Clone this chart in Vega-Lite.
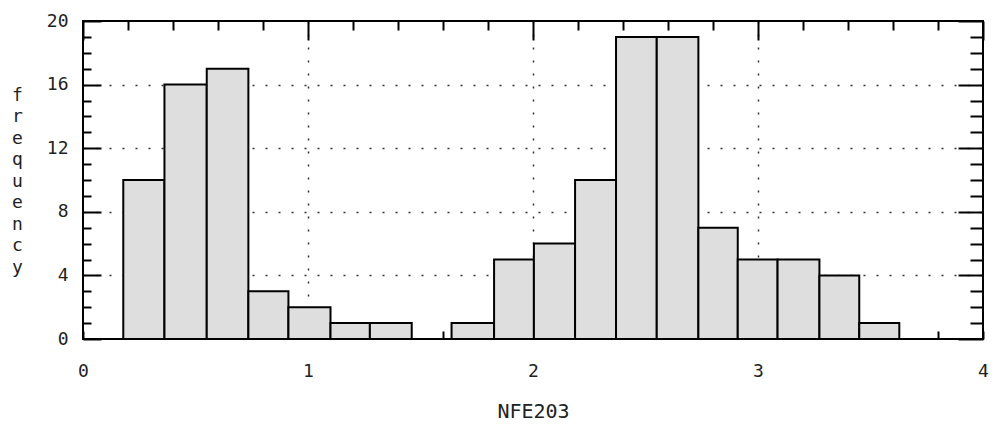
{
  "$schema": "https://vega.github.io/schema/vega-lite/v6.json",
  "width": 900,
  "height": 318,
  "autosize": {"type": "none"},
  "padding": {"left": 83, "top": 21, "right": 16, "bottom": 88},
  "background": "#ffffff",
  "config": {
    "view": {"stroke": "#000000", "strokeWidth": 2},
    "axis": {
      "labelFont": "DejaVu Sans Mono",
      "labelFontSize": 18,
      "labelColor": "#222222",
      "titleFont": "DejaVu Sans Mono",
      "titleFontSize": 18,
      "titleFontWeight": "normal",
      "titleColor": "#222222",
      "domain": false,
      "tickColor": "#000000",
      "tickWidth": 2,
      "labelFlush": false,
      "labelOverlap": false,
      "gridColor": "#333333",
      "gridDash": [2, 11],
      "gridWidth": 1.5
    }
  },
  "data": {
    "values": [
      {"start": 0.179, "end": 0.362, "count": 10},
      {"start": 0.362, "end": 0.55, "count": 16},
      {"start": 0.55, "end": 0.735, "count": 17},
      {"start": 0.735, "end": 0.913, "count": 3},
      {"start": 0.913, "end": 1.1, "count": 2},
      {"start": 1.1, "end": 1.275, "count": 1},
      {"start": 1.275, "end": 1.461, "count": 1},
      {"start": 1.461, "end": 1.638, "count": 0},
      {"start": 1.638, "end": 1.827, "count": 1},
      {"start": 1.827, "end": 2.004, "count": 5},
      {"start": 2.004, "end": 2.187, "count": 6},
      {"start": 2.187, "end": 2.369, "count": 10},
      {"start": 2.369, "end": 2.55, "count": 19},
      {"start": 2.55, "end": 2.735, "count": 19},
      {"start": 2.735, "end": 2.91, "count": 7},
      {"start": 2.91, "end": 3.087, "count": 5},
      {"start": 3.087, "end": 3.273, "count": 5},
      {"start": 3.273, "end": 3.45, "count": 4},
      {"start": 3.45, "end": 3.628, "count": 1}
    ]
  },
  "resolve": {"axis": {"x": "independent", "y": "independent"}},
  "layer": [
    {
      "transform": [{"filter": "datum.count > 0"}],
      "mark": {"type": "bar", "fill": "#dedede", "stroke": "#000000", "strokeWidth": 2},
      "encoding": {
        "x": {
          "field": "start", "type": "quantitative",
          "scale": {"domain": [0, 4], "nice": false, "zero": false},
          "axis": {
            "orient": "bottom",
            "values": [0, 0.2, 0.4, 0.6, 0.8, 1, 1.2, 1.4, 1.6, 1.8, 2, 2.2, 2.4, 2.6, 2.8, 3, 3.2, 3.4, 3.6, 3.8, 4],
            "labelExpr": "abs(datum.value - round(datum.value)) < 0.01 ? format(datum.value, 'd') : ''",
            "tickSize": -8,
            "labelPadding": 31,
            "labelBaseline": "top",
            "grid": true,
            "gridOpacity": {"condition": {"test": "abs(datum.value - round(datum.value)) < 0.01 && datum.value > 0.5 && datum.value < 3.5", "value": 1}, "value": 0},
            "title": "NFE203",
            "titleFontSize": 20,
            "titleX": 450,
            "titleY": 72,
            "titleBaseline": "middle",
            "titleAlign": "center",
            "titleAnchor": null
          }
        },
        "x2": {"field": "end"},
        "y": {
          "field": "count", "type": "quantitative",
          "scale": {"domain": [0, 20], "nice": false},
          "axis": {
            "orient": "left",
            "values": [0, 1, 2, 3, 4, 5, 6, 7, 8, 9, 10, 11, 12, 13, 14, 15, 16, 17, 18, 19, 20],
            "labelExpr": "datum.value % 4 === 0 ? format(datum.value, 'd') : ''",
            "tickSize": {"condition": {"test": "datum.value % 4 === 0", "value": -18}, "value": -8},
            "labelPadding": 33,
            "labelAlign": "right",
            "labelBaseline": "middle",
            "grid": true,
            "gridOpacity": {"condition": {"test": "datum.value % 4 === 0 && datum.value > 0 && datum.value < 20", "value": 1}, "value": 0},
            "title": ["f", "r", "e", "q", "u", "e", "n", "c", "y"],
            "titleAngle": 0,
            "titleLineHeight": 21.5,
            "titleX": -66,
            "titleY": 74,
            "titleAlign": "center",
            "titleBaseline": "middle",
            "titleAnchor": null
          }
        },
        "y2": {"datum": 0}
      }
    },
    {
      "mark": {"type": "bar", "opacity": 0},
      "encoding": {
        "x": {
          "field": "start", "type": "quantitative",
          "axis": {
            "orient": "top",
            "values": [0, 0.2, 0.4, 0.6, 0.8, 1, 1.2, 1.4, 1.6, 1.8, 2, 2.2, 2.4, 2.6, 2.8, 3, 3.2, 3.4, 3.6, 3.8, 4],
            "labels": false,
            "grid": false,
            "title": null,
            "tickSize": {"condition": {"test": "abs(datum.value - round(datum.value)) < 0.01", "value": -19}, "value": -9}
          }
        },
        "x2": {"field": "end"},
        "y": {
          "field": "count", "type": "quantitative",
          "axis": {
            "orient": "right",
            "values": [0, 1, 2, 3, 4, 5, 6, 7, 8, 9, 10, 11, 12, 13, 14, 15, 16, 17, 18, 19, 20],
            "labels": false,
            "grid": false,
            "title": null,
            "tickSize": {"condition": {"test": "datum.value % 4 === 0", "value": -25}, "value": -13}
          }
        },
        "y2": {"datum": 0}
      }
    }
  ]
}
